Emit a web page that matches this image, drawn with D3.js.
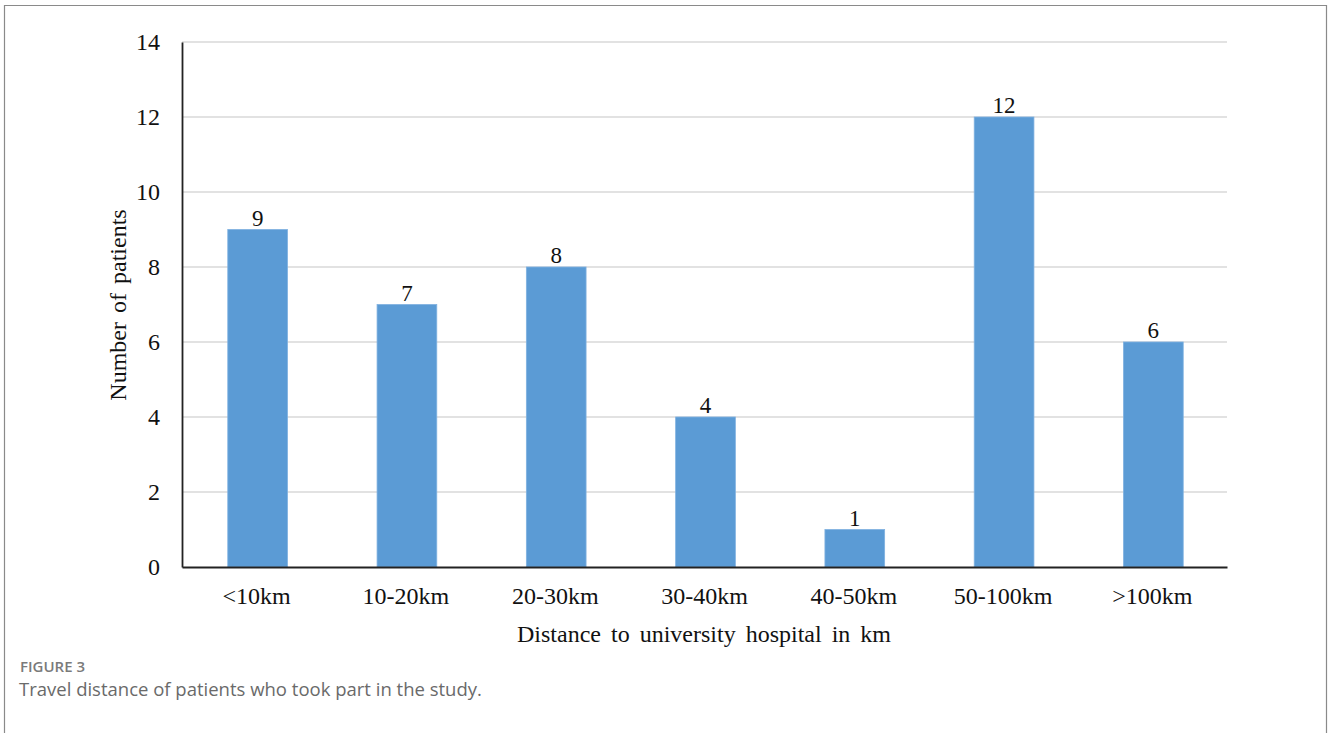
<!DOCTYPE html>
<html>
<head>
<meta charset="utf-8">
<script src="https://cdn.jsdelivr.net/npm/d3@7"></script>
<style>
  html, body { margin: 0; padding: 0; background: #fff; }
  svg { display: block; }
</style>
</head>
<body>
<svg id="chart" width="1328" height="733"></svg>
<script>
// Patients grouped by travel distance to the university hospital
const categories = ["<10km", "10-20km", "20-30km", "30-40km", "40-50km", "50-100km", ">100km"];
const patients = [9, 7, 8, 4, 1, 12, 6];
const yTicks = [0, 2, 4, 6, 8, 10, 12, 14];

const svg = d3.select("#chart");
const W = 1328, H = 733;
const plot = { left: 182, right: 1227, top: 42, bottom: 567 };

// Panel frame (open at the bottom)
svg.append("path")
  .attr("d", `M4.5,${H} V5.5 H1326.5 V${H}`)
  .attr("fill", "none")
  .attr("stroke", "#8a8a8a")
  .attr("stroke-width", 1.2);

const x = d3.scaleBand()
  .domain(categories)
  .range([plot.left, plot.right])
  .paddingInner(0.6)
  .paddingOuter(0.3);

const y = d3.scaleLinear()
  .domain([0, 14])
  .range([plot.bottom, plot.top]);

const serif = "'Liberation Serif', 'Times New Roman', serif";

// Horizontal grid lines
svg.append("g")
  .selectAll("line")
  .data(yTicks.filter(d => d > 0))
  .join("line")
  .attr("x1", plot.left)
  .attr("x2", plot.right)
  .attr("y1", d => y(d))
  .attr("y2", d => y(d))
  .attr("stroke", "#d9d9d9")
  .attr("stroke-width", 1.5);

// Bars
svg.append("g")
  .selectAll("rect")
  .data(categories)
  .join("rect")
  .attr("x", d => x(d) + 1)
  .attr("y", (d, i) => y(patients[i]))
  .attr("width", x.bandwidth())
  .attr("height", (d, i) => y(0) - y(patients[i]))
  .attr("fill", "#5b9bd5")
  .attr("stroke", "#7fb1e0")
  .attr("stroke-width", 0.8);

// Value labels above the bars
svg.append("g")
  .selectAll("text")
  .data(categories)
  .join("text")
  .attr("x", d => x(d) + 1 + x.bandwidth() / 2)
  .attr("y", (d, i) => y(patients[i]) - 4)
  .attr("text-anchor", "middle")
  .attr("font-family", serif)
  .attr("font-size", 23)
  .attr("fill", "#111")
  .text((d, i) => patients[i]);

// Y axis
const yAxis = svg.append("g")
  .attr("transform", `translate(${plot.left},0)`)
  .call(d3.axisLeft(y).tickValues(yTicks).tickSize(0).tickPadding(22));
yAxis.select(".domain").attr("stroke", "#222").attr("stroke-width", 1.8);
yAxis.selectAll("text")
  .attr("font-family", serif)
  .attr("font-size", 24)
  .attr("fill", "#111");

// X axis
const xAxis = svg.append("g")
  .attr("transform", `translate(0,${plot.bottom})`)
  .call(d3.axisBottom(x).tickSize(0).tickPadding(20));
xAxis.select(".domain").attr("stroke", "#222").attr("stroke-width", 1.8);
xAxis.selectAll("text")
  .attr("font-family", serif)
  .attr("font-size", 24)
  .attr("fill", "#111");

// Axis titles
svg.append("text")
  .attr("x", 704)
  .attr("y", 642)
  .attr("text-anchor", "middle")
  .attr("font-family", serif)
  .attr("font-size", 24)
  .attr("word-spacing", 4)
  .attr("fill", "#111")
  .text("Distance to university hospital in km");

svg.append("text")
  .attr("transform", "translate(126,305) rotate(-90)")
  .attr("text-anchor", "middle")
  .attr("font-family", serif)
  .attr("font-size", 24)
  .attr("word-spacing", 3)
  .attr("fill", "#111")
  .text("Number of patients");

// Figure caption
const sans = "'Open Sans', 'Noto Sans', sans-serif";
svg.append("text")
  .attr("x", 20)
  .attr("y", 672)
  .attr("font-family", sans)
  .attr("font-size", 15)
  .attr("font-weight", 600)
  .attr("fill", "#7a7a7a")
  .text("FIGURE 3");

svg.append("text")
  .attr("x", 19)
  .attr("y", 696)
  .attr("font-family", sans)
  .attr("font-size", 18.5)
  .attr("fill", "#6a6a6a")
  .text("Travel distance of patients who took part in the study.");
</script>
</body>
</html>
